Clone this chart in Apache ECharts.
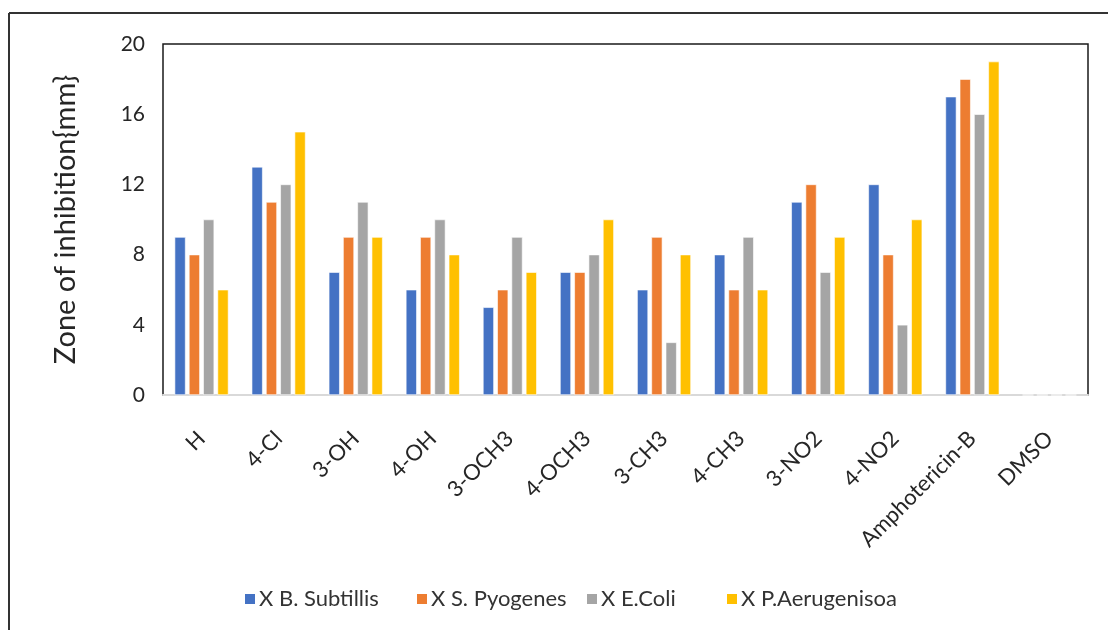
<!DOCTYPE html>
<html>
<head>
<meta charset="utf-8">
<style>
  html, body { margin: 0; padding: 0; background: #fff; }
  #chart { width: 1108px; height: 630px; }
</style>
<script src="https://cdn.jsdelivr.net/npm/echarts@6/dist/echarts.min.js"></script>
</head>
<body>
<div id="chart"></div>
<script>
// Compounds tested (substituent on the ring), plus reference drug and solvent control
const categories = ['H', '4-Cl', '3-OH', '4-OH', '3-OCH3', '4-OCH3', '3-CH3', '4-CH3', '3-NO2', '4-NO2', 'Amphotericin-B', 'DMSO'];

// Zone of inhibition (mm) per organism
const bSubtillis   = [9, 13, 7, 6, 5, 7, 6, 8, 11, 12, 17, 0];
const sPyogenes    = [8, 11, 9, 9, 6, 7, 9, 6, 12, 8, 18, 0];
const eColi        = [10, 12, 11, 10, 9, 8, 3, 9, 7, 4, 16, 0];
const pAerugenisoa = [6, 15, 9, 8, 7, 10, 8, 6, 9, 10, 19, 0];

const seriesNames = ['X B. Subtillis', 'X S. Pyogenes', 'X E.Coli', 'X P.Aerugenisoa'];
const seriesColors = ['#4472C4', '#ED7D31', '#A5A5A5', '#FFC000'];
const seriesData = [bSubtillis, sPyogenes, eColi, pAerugenisoa];

const FONT = 'Lato, "Open Sans", sans-serif';

// one legend entry per organism, laid out along the bottom
const legendLeft = [238, 410, 580, 720];
const legends = seriesNames.map((name, i) => ({
  left: legendLeft[i], top: 583,
  itemWidth: 12, itemHeight: 12,
  icon: 'rect',
  textStyle: { fontFamily: FONT, fontSize: 22, color: '#333', padding: [0, 0, 0, -2] },
  data: [name]
}));

const chart = echarts.init(document.getElementById('chart'), null, { renderer: 'canvas' });

chart.setOption({
  animation: false,
  backgroundColor: '#fff',
  graphic: [
    // frame lines around the figure
    { type: 'line', shape: { x1: 9, y1: 13, x2: 1108, y2: 13 }, style: { stroke: '#333', lineWidth: 2 }, z: 10 },
    { type: 'line', shape: { x1: 9, y1: 13, x2: 9, y2: 630 }, style: { stroke: '#333', lineWidth: 2 }, z: 10 }
  ],
  grid: {
    left: 163, right: 20, top: 44, bottom: 235,
    show: true, borderColor: '#1a1a1a', borderWidth: 1.5, backgroundColor: 'transparent'
  },
  legend: legends,
  xAxis: {
    type: 'category',
    data: categories,
    axisLine: { show: true, lineStyle: { color: '#D9D9D9', width: 2 } },
    axisTick: { show: false },
    axisLabel: {
      rotate: 45, margin: 40, interval: 0,
      fontFamily: FONT, fontSize: 22, color: '#262626'
    }
  },
  yAxis: {
    type: 'value',
    min: 0, max: 20, interval: 4,
    name: 'Zone of inhibition{mm}',
    nameLocation: 'middle',
    nameGap: 83,
    nameTextStyle: { fontFamily: FONT, fontSize: 29, color: '#262626' },
    axisLine: { show: false },
    axisTick: { show: false },
    splitLine: { show: false },
    axisLabel: { margin: 18, fontFamily: FONT, fontSize: 21, color: '#262626' }
  },
  series: seriesData.map((d, i) => ({
    name: seriesNames[i],
    type: 'bar',
    data: d,
    barWidth: 11,
    barGap: '30%',
    itemStyle: { color: seriesColors[i], borderColor: '#fff', borderWidth: 0.6 }
  }))
});
</script>
</body>
</html>
